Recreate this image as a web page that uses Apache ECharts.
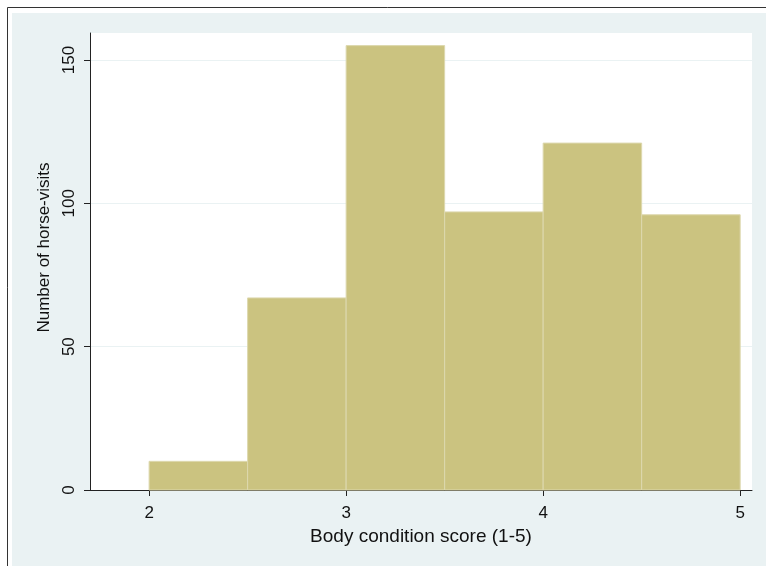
<!DOCTYPE html>
<html><head><meta charset="utf-8">
<script src="https://cdn.jsdelivr.net/npm/echarts@6/dist/echarts.min.js"></script>
<style>html,body{margin:0;padding:0;background:#fff}#c{width:766px;height:566px}</style>
</head><body><div id="c"></div>
<script>
const binStarts = [2, 2.5, 3, 3.5, 4, 4.5];
const binWidth = 0.5;
const counts = [10, 67, 155, 97, 121, 96];
const xTicks = [2, 3, 4, 5];
const yTicks = [0, 50, 100, 150];

const chart = echarts.init(document.getElementById('c'), null, {renderer: 'canvas'});
const font = 'Liberation Sans, Arial, sans-serif';
const data = binStarts.map((s, i) => [s, s + binWidth, counts[i]]);
chart.setOption({
  animation: false,
  backgroundColor: '#fff',
  graphic: [
    {type: 'rect', z: -10, shape: {x: 7.5, y: 7.5, width: 800, height: 600}, style: {fill: '#fff', stroke: '#333', lineWidth: 1}},
    {type: 'rect', z: -9, shape: {x: 12, y: 13, width: 800, height: 600}, style: {fill: '#EAF2F3'}}
  ],
  grid: {left: 90, top: 33, right: 14, bottom: 76, show: true, backgroundColor: '#fff', borderWidth: 0},
  xAxis: {
    type: 'value', min: 1.7, max: 5.06,
    name: 'Body condition score (1-5)', nameLocation: 'middle', nameGap: 31,
    nameTextStyle: {fontFamily: font, fontSize: 19, color: '#111'},
    axisLine: {show: true, lineStyle: {color: '#222', width: 1}},
    axisTick: {show: true, length: 6, lineStyle: {color: '#222'}, customValues: xTicks},
    axisLabel: {fontFamily: font, fontSize: 17, color: '#111', margin: 15, customValues: xTicks},
    splitLine: {show: false}
  },
  yAxis: {
    type: 'value', min: 0, max: 159.4, interval: 50,
    name: 'Number of horse-visits', nameLocation: 'middle', nameGap: 36,
    nameTextStyle: {fontFamily: font, fontSize: 17, color: '#111', padding: [0, 0, 0, 28]},
    axisLine: {show: true, lineStyle: {color: '#222', width: 1}},
    axisTick: {show: true, length: 6, lineStyle: {color: '#222'}, customValues: yTicks},
    axisLabel: {fontFamily: font, fontSize: 17, color: '#111', rotate: 90, margin: 12, customValues: yTicks, showMaxLabel: true},
    splitLine: {show: true, lineStyle: {color: '#EAF2F3', width: 1}}
  },
  series: [{
    type: 'custom',
    data: data,
    encode: {x: [0, 1], y: 2},
    renderItem: function (params, api) {
      const p0 = api.coord([api.value(0), api.value(2)]);
      const p1 = api.coord([api.value(1), 0]);
      return {
        type: 'rect',
        shape: {x: p0[0], y: p0[1], width: p1[0] - p0[0], height: p1[1] - p0[1]},
        style: {fill: '#CBC380', stroke: '#DDD8AE', lineWidth: 1}
      };
    }
  }]
});
</script></body></html>
